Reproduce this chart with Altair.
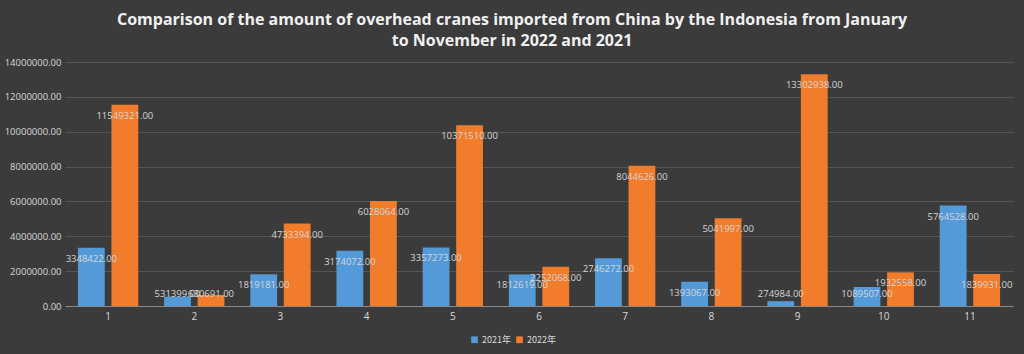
import altair as alt
import pandas as pd

months = [str(i) for i in range(1, 12)]
v2021 = [3348422, 531399, 1819181, 3174072, 3357273, 1812619, 2746272, 1393067, 274984, 1089507, 5764528]
v2022 = [11549321, 630691, 4733394, 6028064, 10371510, 2252068, 8044626, 5041997, 13302938, 1932558, 1839931]
series = ["2021年", "2022年"]
y_ticks = [0, 2000000, 4000000, 6000000, 8000000, 10000000, 12000000, 14000000]

rows = []
for m, a, b in zip(months, v2021, v2022):
    rows.append({"month": m, "year": series[0], "value": a, "label": f"{a:.2f}"})
    rows.append({"month": m, "year": series[1], "value": b, "label": f"{b:.2f}"})
df = pd.DataFrame(rows)

FONT = "Open Sans"
x = alt.X("month:N", sort=months, title=None,
          scale=alt.Scale(paddingInner=0.3, paddingOuter=0.15),
          axis=alt.Axis(labelAngle=0, labelColor="#d9d9d9", labelFontSize=10, labelFont=FONT,
                        domainColor="#8a8a8a", ticks=False, labelPadding=5))
xoff = alt.XOffset("year:N", sort=series, scale=alt.Scale(paddingInner=0.2))
y_scale = alt.Scale(domain=[0, 14000000], nice=False)
y_axis = alt.Axis(values=y_ticks, format=".2f", labelColor="#d9d9d9", labelFontSize=9.5,
                  labelFont=FONT, domain=False, ticks=False, gridColor="#5c5c5c",
                  gridWidth=0.8, labelPadding=4)
y = alt.Y("value:Q", title=None, scale=y_scale, axis=y_axis)

bars = alt.Chart(df).mark_bar().encode(
    x=x, xOffset=xoff, y=y,
    color=alt.Color("year:N", sort=series,
                    scale=alt.Scale(domain=series, range=["#559ad8", "#f07c2c"]),
                    legend=alt.Legend(title=None, orient="none", legendX=405, legendY=273,
                                      direction="horizontal", symbolType="square", symbolSize=45,
                                      labelColor="#d9d9d9", labelFontSize=9, labelFont="Noto Sans CJK SC",
                                      labelOffset=3, columnPadding=4, symbolStrokeWidth=0)),
)

labels = alt.Chart(df).transform_calculate(
    labely="max(datum.value, 1330000)"
).mark_text(baseline="middle", dy=11, fontSize=9.5, font=FONT, color="#d6d6d6").encode(
    x=x, xOffset=xoff, y=alt.Y("labely:Q", title=None, scale=y_scale, axis=y_axis), text="label:N"
)

chart = alt.layer(bars, labels).properties(
    width=948, height=244,
    title=alt.Title(["Comparison of the amount of overhead cranes imported from China by the Indonesia from January",
                     "to November in 2022 and 2021"],
                    fontSize=16, font=FONT, fontWeight="bold", color="#f0f0f0", anchor="middle",
                    dx=-27, offset=8, lineHeight=21),
    padding={"left": 65, "top": 62, "right": 11, "bottom": 48},
    autosize=alt.AutoSizeParams(type="none"),
    background="#3b3b3b",
).configure_view(stroke=None)

chart.save("out.html", embed_options={"renderer": "svg", "actions": False})
